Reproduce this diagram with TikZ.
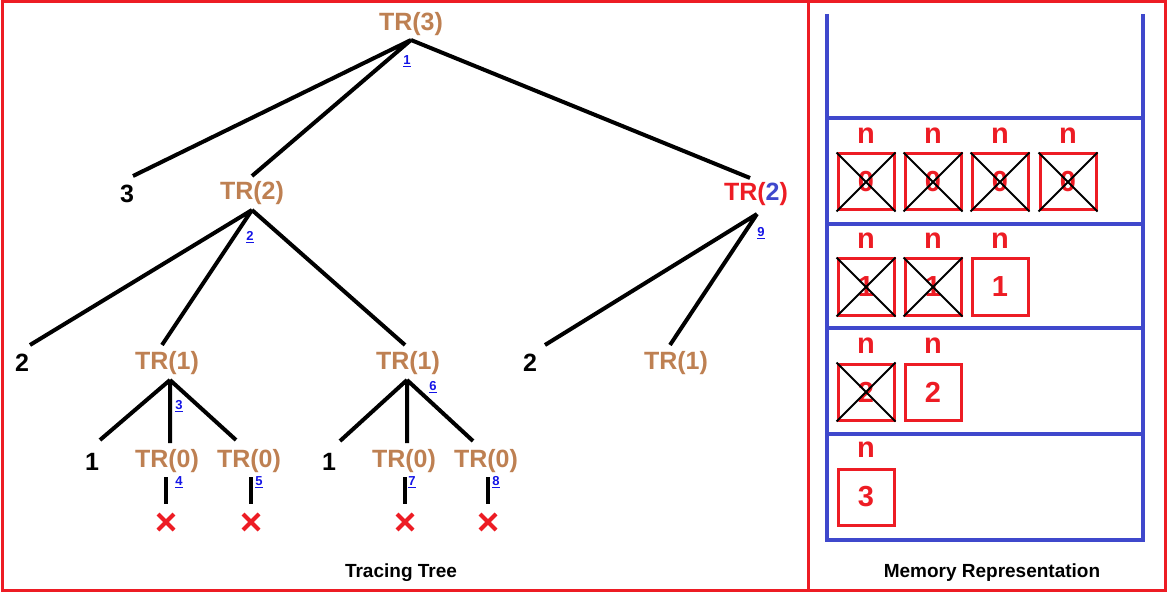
\documentclass[tikz,border=0pt]{standalone}
\usepackage{fontspec}
\setmainfont{Liberation Sans}
\definecolor{trc}{RGB}{190,128,82}
\definecolor{rd}{RGB}{237,28,36}
\definecolor{bl}{RGB}{63,72,204}
\definecolor{lk}{RGB}{20,20,230}
\begin{document}
\begin{tikzpicture}[x=1pt,y=-1pt,
 tr/.style={font=\fontsize{25}{25}\selectfont\bfseries,text=trc,inner sep=0pt},
 num/.style={font=\fontsize{25}{25}\selectfont\bfseries,inner sep=0pt},
 lbl/.style={font=\fontsize{13}{13}\selectfont\bfseries,text=lk,inner sep=0pt},
 ed/.style={line width=4pt},
 mbox/.style={draw=rd,line width=3pt,minimum width=56pt,minimum height=56pt,inner sep=0pt,font=\fontsize{29}{29}\selectfont\bfseries,text=rd},
 nl/.style={font=\fontsize{29}{29}\selectfont\bfseries,text=rd,inner sep=0pt},
 cr/.style={line width=2pt},
 ttl/.style={font=\fontsize{19}{19}\selectfont\bfseries,inner sep=0pt}]
\useasboundingbox (0,0) rectangle (1168,596);
\draw[rd,line width=3pt] (2,2) rectangle (1165,590);
\draw[rd,line width=3pt] (808,2) -- (808,590);
% stack
\draw[bl,line width=4.5pt] (827,14) -- (827,540) -- (1143,540) -- (1143,14);
\foreach \y in {118,224,328,434} \draw[bl,line width=3.5pt] (827,\y) -- (1143,\y);
% memory boxes
\foreach \x/\i in {866/a,933/b,1000/c,1068/d}{
 \node[nl] at (\x,136) {n};
 \node[mbox] (m0\i) at (\x,182) {0};
 \draw[cr] (m0\i.north west) -- (m0\i.south east) (m0\i.north east) -- (m0\i.south west);}
\foreach \x/\i in {866/a,933/b,1000/c}{
 \node[nl] at (\x,241) {n};
 \node[mbox] (m1\i) at (\x,287) {1};}
\foreach \i in {a,b}{\draw[cr] (m1\i.north west) -- (m1\i.south east) (m1\i.north east) -- (m1\i.south west);}
\foreach \x/\i in {866/a,933/b}{
 \node[nl] at (\x,346) {n};
 \node[mbox] (m2\i) at (\x,392) {2};}
\draw[cr] (m2a.north west) -- (m2a.south east) (m2a.north east) -- (m2a.south west);
\node[nl] at (866,450) {n};
\node[mbox] (m3a) at (866,497) {3};
% tree
\node[tr] (r) at (411,24) {TR(3)};
\coordinate (ra) at (411,40);
\node[lbl] at (407,61) {\underline{1}};
\node[num] (t3) at (127,194) {3};
\node[tr] (a) at (252,193) {TR(2)};
\node[tr,text=rd] (b) at (756,194) {TR(\textcolor{bl}{2})};
\coordinate (t3e) at (133,176);
\coordinate (ae) at (252,176);
\coordinate (be) at (750,178);
\draw[ed] (ra) -- (t3e) (ra) -- (ae) (ra) -- (be);
\coordinate (aa) at (252,210);
\node[lbl] at (250,237) {\underline{2}};
\node[num] (a1) at (22,363) {2};
\node[tr] (a2) at (167,363) {TR(1)};
\node[tr] (a3) at (408,363) {TR(1)};
\draw[ed] (aa) -- (30,345) (aa) -- (162,345) (aa) -- (405,345);
\coordinate (ba) at (757,214);
\node[lbl] at (761,233) {\underline{9}};
\node[num] (b1) at (530,363) {2};
\node[tr] (b2) at (676,363) {TR(1)};
\draw[ed] (ba) -- (545,345) (ba) -- (670,345);
\coordinate (a2a) at (170,380);
\node[lbl] at (179,406) {\underline{3}};
\draw[ed] (a2a) -- (100,440) (a2a) -- (170,443) (a2a) -- (236,440);
\coordinate (a3a) at (407,380);
\node[lbl] at (433,387) {\underline{6}};
\draw[ed] (a3a) -- (340,441) (a3a) -- (407,443) (a3a) -- (473,441);
\node[num] (c1) at (92,462) {1};
\node[tr] (c2) at (167,461) {TR(0)};
\node[tr] (c3) at (249,461) {TR(0)};
\node[num] (c4) at (329,462) {1};
\node[tr] (c5) at (404,461) {TR(0)};
\node[tr] (c6) at (486,461) {TR(0)};
\foreach \x/\l/\lx in {166/4/179,251/5/259,405/7/412,488/8/496}{
 \draw[ed] (\x,477) -- (\x,504);
 \node[lbl] at (\lx,482) {\underline{\l}};
 \draw[rd,line width=4pt] (\x-8,514) -- (\x+8,530) (\x+8,514) -- (\x-8,530);}
\node[ttl] at (401,573) {Tracing Tree};
\node[ttl] at (992,573) {Memory Representation};
\end{tikzpicture}
\end{document}
